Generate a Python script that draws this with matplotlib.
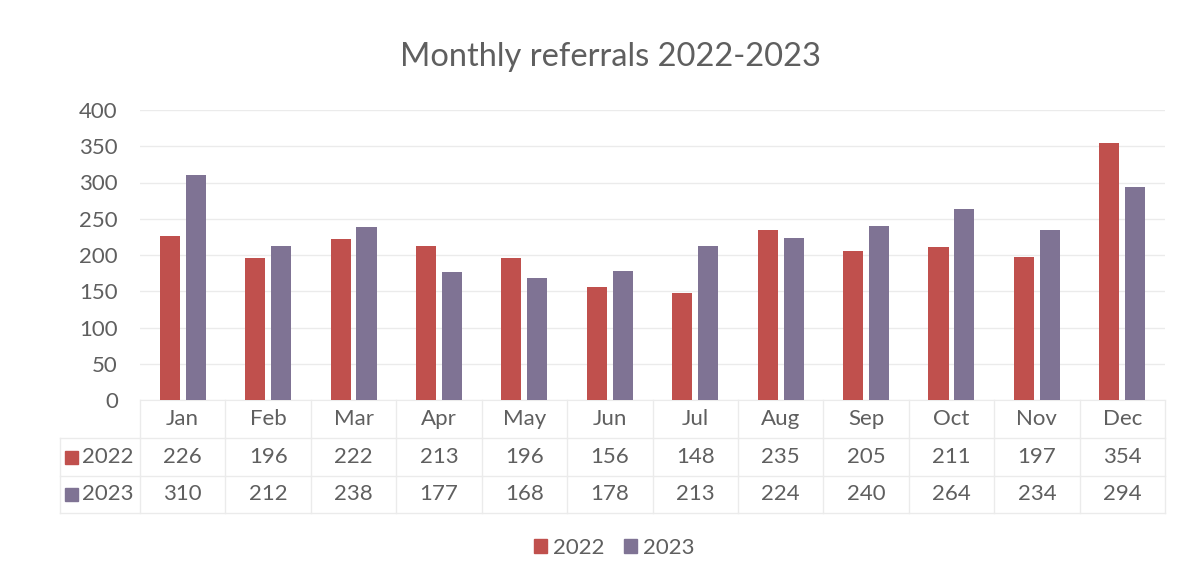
import matplotlib
matplotlib.use("Agg")
import matplotlib.pyplot as plt
import matplotlib.transforms as mtransforms
import numpy as np

months = ["Jan", "Feb", "Mar", "Apr", "May", "Jun", "Jul", "Aug", "Sep", "Oct", "Nov", "Dec"]
series_names = ["2022", "2023"]
values_2022 = [226, 196, 222, 213, 196, 156, 148, 235, 205, 211, 197, 354]
values_2023 = [310, 212, 238, 177, 168, 178, 213, 224, 240, 264, 234, 294]
y_ticks = [0, 50, 100, 150, 200, 250, 300, 350, 400]

c22 = "#C0504D"
c23 = "#7F7394"
txt = "#5F5F5F"
line_c = "#EBEBEB"
fs = 16

plt.rcParams['font.family'] = ['Lato', 'DejaVu Sans']

fig = plt.figure(figsize=(11.89, 5.78), dpi=100)
W, H = 1189, 578
left, right, top, bottom = 140, 1165, 110, 400
ax = fig.add_axes([left / W, 1 - bottom / H, (right - left) / W, (bottom - top) / H])

x = np.arange(len(months))
bw = 0.235
off = 0.152
ax.bar(x - off, values_2022, bw, color=c22, zorder=3)
ax.bar(x + off, values_2023, bw, color=c23, zorder=3)

ax.set_xlim(-0.5, len(months) - 0.5)
ax.set_ylim(0, 400)
ax.set_yticks(y_ticks)
ax.set_yticklabels([str(t) for t in y_ticks], fontsize=fs, color=txt)
ax.tick_params(axis='y', length=0, pad=16)
ax.set_xticks([])
ax.grid(axis='y', color=line_c, linewidth=1, zorder=0)
for s in ["top", "right", "left"]:
    ax.spines[s].set_visible(False)
ax.spines["bottom"].set_color(line_c)

fig.text(610 / W, 1 - 57 / H, "Monthly referrals 2022-2023", ha='center', va='center',
         fontsize=23.5, color=txt)

# data table
trans = mtransforms.blended_transform_factory(ax.transData, ax.transAxes)
ph = bottom - top
def ay(py):
    return (bottom - py) / ph

row_month = ay(419)
row_a = ay(457)
row_b = ay(494)
for i, m in enumerate(months):
    ax.text(i, row_month, m, transform=trans, ha='center', va='center', fontsize=fs, color=txt, clip_on=False)
    ax.text(i, row_a, str(values_2022[i]), transform=trans, ha='center', va='center', fontsize=fs, color=txt, clip_on=False)
    ax.text(i, row_b, str(values_2023[i]), transform=trans, ha='center', va='center', fontsize=fs, color=txt, clip_on=False)

# table lines
for b in np.arange(-0.5, len(months), 1.0):
    ax.plot([b, b], [0, ay(513)], transform=trans, color=line_c, lw=1, clip_on=False)
xl = (60 - left) / (right - left)
for py in [438, 476, 513]:
    ax.plot([xl, 1], [ay(py), ay(py)], transform=ax.transAxes, color=line_c, lw=1, clip_on=False)
ax.plot([xl, xl], [ay(438), ay(513)], transform=ax.transAxes, color=line_c, lw=1, clip_on=False)

# row headers
for py, nm, c in [(457, series_names[0], c22), (494, series_names[1], c23)]:
    fig.patches.append(plt.Rectangle((65 / W, 1 - (py + 7) / H), 13 / W, 13 / H,
                                     transform=fig.transFigure, color=c, figure=fig))
    fig.text(82 / W, 1 - py / H, nm, ha='left', va='center', fontsize=fs, color=txt)

# legend
from matplotlib.patches import Patch
handles = [Patch(color=c22, label=series_names[0]), Patch(color=c23, label=series_names[1])]
fig.legend(handles=handles, loc='center', bbox_to_anchor=(614 / W, 1 - 548 / H), ncol=2,
           frameon=False, fontsize=fs, labelcolor=txt, handlelength=0.6, handleheight=0.6,
           handletextpad=0.25, columnspacing=0.9)

fig.savefig("out.png", dpi=100, facecolor="white")
